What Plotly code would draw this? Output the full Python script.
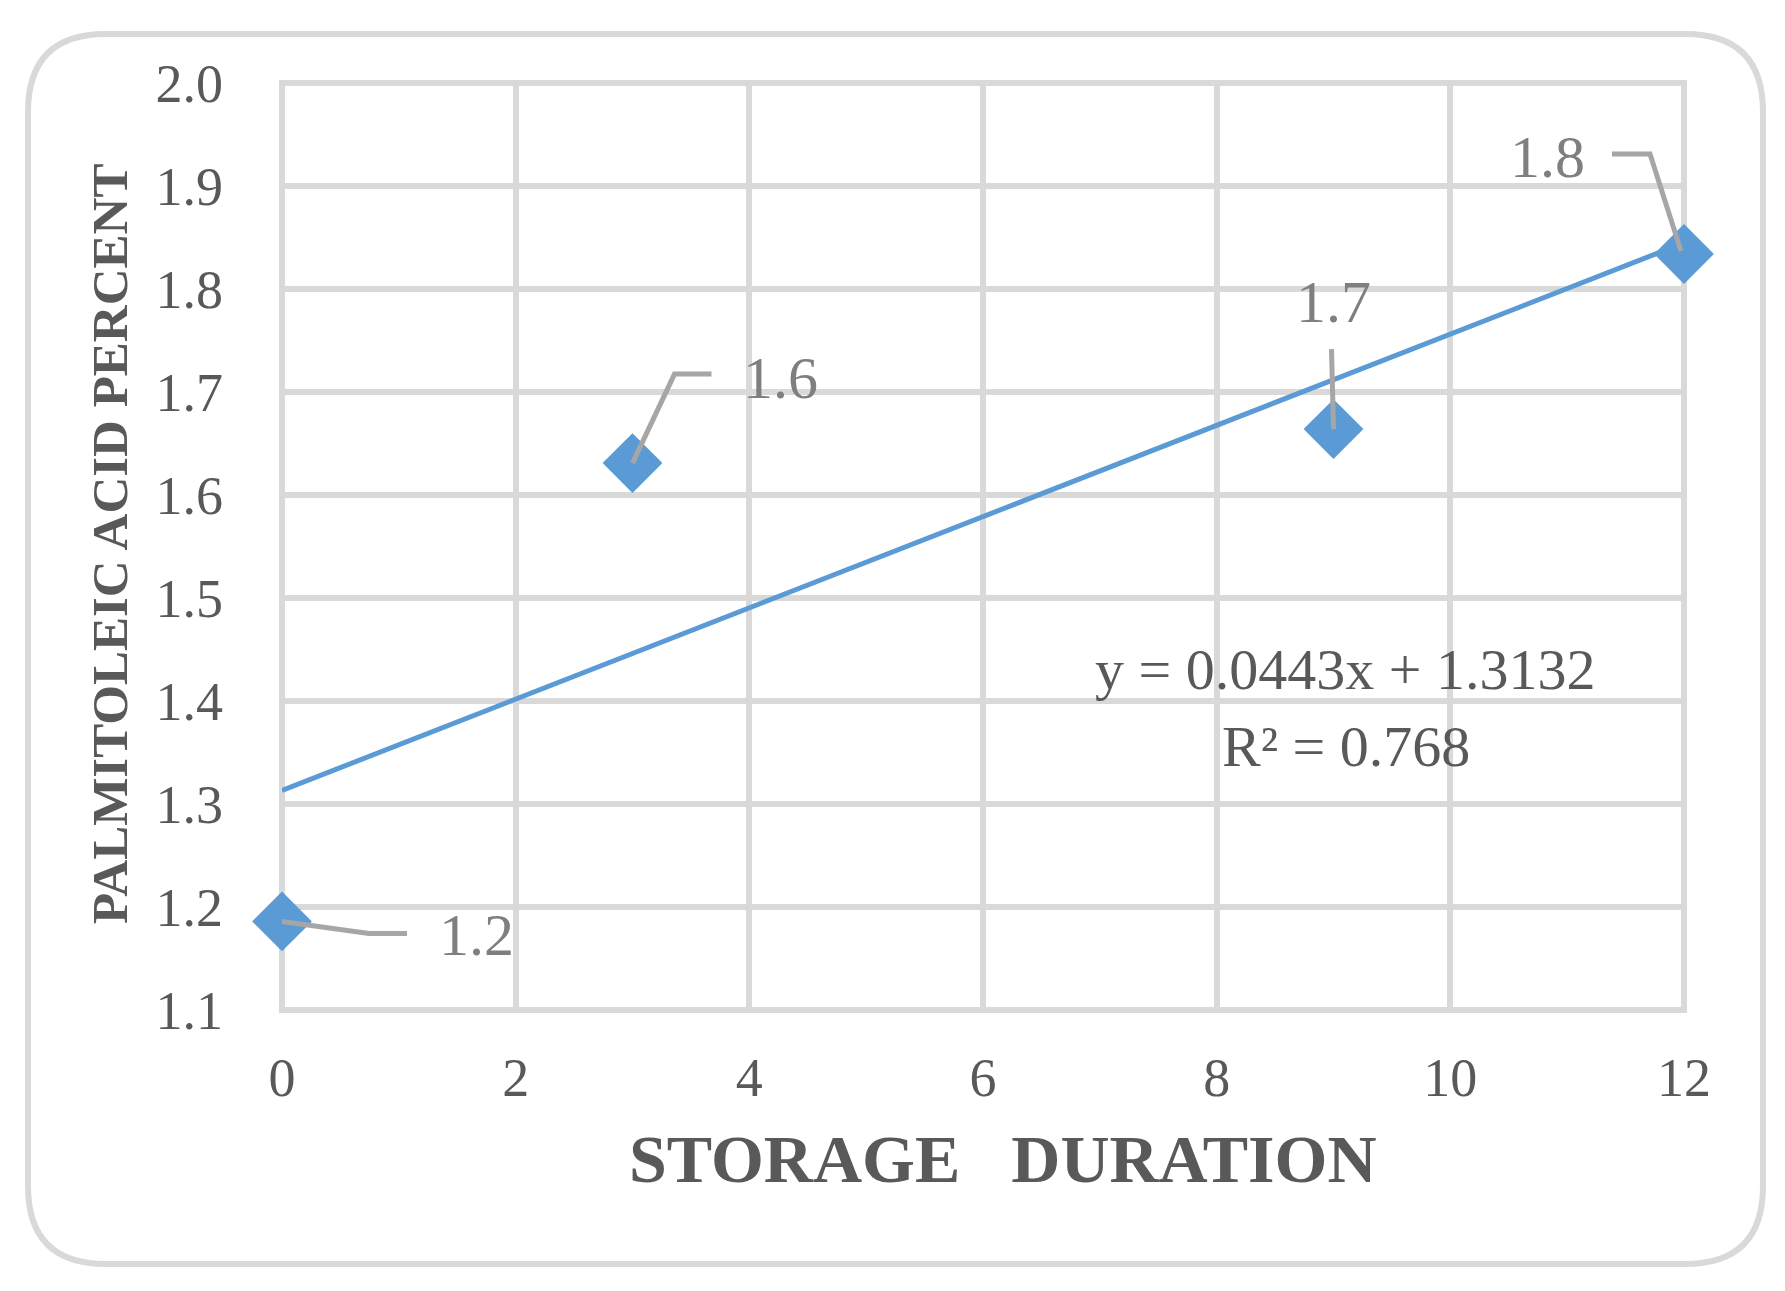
import plotly.graph_objects as go

# storage duration (months) and palmitoleic acid %
months = [0, 3, 9, 12]
palmitoleic = [1.186, 1.631, 1.664, 1.834]

# linear trend as reported on the chart
slope = 0.0443
intercept = 1.3132
r_squared = 0.768

x_ticks = [0, 2, 4, 6, 8, 10, 12]
y_ticks = [1.1, 1.2, 1.3, 1.4, 1.5, 1.6, 1.7, 1.8, 1.9, 2.0]

FONT = "Palatino Linotype, Book Antiqua, Palatino, Liberation Serif, serif"
GRID = "#d9d9d9"
BLUE = "#5b9bd5"
TXT = "#595959"

OFF = 8  # page body margin
W, H = 1785 - OFF, 1291 - OFF
L, R, T, B = 282, 1684, 83, 1010  # plot area in page px


def px(x):
    return (x - L) / (R - L)


def py(y):
    return (B - y) / (B - T)


fig = go.Figure()

trend_x = [months[0], months[-1]]
trend_y = [intercept + slope * v for v in trend_x]
fig.add_trace(go.Scatter(x=trend_x, y=trend_y, mode="lines",
                         line=dict(color=BLUE, width=5), cliponaxis=False,
                         hoverinfo="skip"))

fig.add_trace(go.Scatter(x=months, y=palmitoleic, mode="markers",
                         marker=dict(symbol="diamond", size=46, color=BLUE,
                                     line=dict(width=0)),
                         cliponaxis=False))

# data labels with leader lines (offsets in px, relative to each point)
label_shift = [(194, -14), (148, 85), (0, 127), (-137, 97)]
leader_paths = ["M0,0 L87,-12 L125,-12",
                "M0,0 L42,89 L79,89",
                "M0,0 L-2,80",
                "M-3,3 L-34,100 L-72,100"]
for xv, yv, (dx, dy), path in zip(months, palmitoleic, label_shift, leader_paths):
    fig.add_shape(type="path", xref="x", yref="y", xsizemode="pixel", ysizemode="pixel",
                  xanchor=xv, yanchor=yv, path=path,
                  line=dict(color="#a6a6a6", width=5), layer="above")
    fig.add_annotation(x=xv, y=yv, text=f"{yv:.1f}", showarrow=False,
                       xshift=dx, yshift=dy, xanchor="center", yanchor="middle",
                       font=dict(family=FONT, size=60, color="#7f7f7f"))

# equation of the trend
fig.add_annotation(xref="paper", yref="paper", x=px(1345), y=py(669),
                   xanchor="center", yanchor="middle",
                   text=f"y = {slope}x + {intercept}", showarrow=False,
                   font=dict(family=FONT, size=58, color=TXT))
fig.add_annotation(xref="paper", yref="paper", x=px(1346), y=py(746),
                   xanchor="center", yanchor="middle",
                   text=f"R² = {r_squared}", showarrow=False,
                   font=dict(family=FONT, size=58, color=TXT))

# axis titles
fig.add_annotation(xref="paper", yref="paper", x=px(1003), y=py(1159),
                   xanchor="center", yanchor="middle",
                   text="<b>STORAGE   DURATION</b>", showarrow=False,
                   font=dict(family=FONT, size=68, color=TXT))
fig.add_annotation(xref="paper", yref="paper", x=px(110), y=py(544),
                   xanchor="center", yanchor="middle",
                   text="<b>PALMITOLEIC ACID PERCENT</b>", showarrow=False, textangle=-90,
                   font=dict(family=FONT, size=51, color=TXT))

# plot frame
fig.add_shape(type="rect", xref="paper", yref="paper", x0=0, x1=1, y0=0, y1=1,
              line=dict(color=GRID, width=6), layer="below")

# outer rounded border
bx0, bx1, by0, by1, rad = 28, 1763, 34, 1264, 78
path = (f"M{px(bx0 + rad)},{py(by0)} L{px(bx1 - rad)},{py(by0)} "
        f"Q{px(bx1)},{py(by0)} {px(bx1)},{py(by0 + rad)} "
        f"L{px(bx1)},{py(by1 - rad)} "
        f"Q{px(bx1)},{py(by1)} {px(bx1 - rad)},{py(by1)} "
        f"L{px(bx0 + rad)},{py(by1)} "
        f"Q{px(bx0)},{py(by1)} {px(bx0)},{py(by1 - rad)} "
        f"L{px(bx0)},{py(by0 + rad)} "
        f"Q{px(bx0)},{py(by0)} {px(bx0 + rad)},{py(by0)} Z")
fig.add_shape(type="path", xref="paper", yref="paper", path=path,
              line=dict(color=GRID, width=6), layer="below")

fig.update_xaxes(range=[0, 12], tickvals=x_ticks, ticktext=[str(v) for v in x_ticks],
                 showgrid=True, gridcolor=GRID, gridwidth=6, zeroline=False,
                 showline=False, ticks="", ticklabelstandoff=31,
                 tickfont=dict(family=FONT, size=54, color=TXT))
fig.update_yaxes(range=[1.1, 2.0], tickvals=y_ticks, ticktext=[f"{v:.1f}" for v in y_ticks],
                 showgrid=True, gridcolor=GRID, gridwidth=6, zeroline=False,
                 showline=False, ticks="", ticklabelstandoff=58,
                 tickfont=dict(family=FONT, size=54, color=TXT))

fig.update_layout(width=W, height=H, showlegend=False,
                  margin=dict(l=L - OFF, r=W - (R - OFF), t=T - OFF, b=H - (B - OFF),
                              autoexpand=False),
                  plot_bgcolor="white", paper_bgcolor="white",
                  font=dict(family=FONT, color=TXT))

fig.write_html("out.html")
